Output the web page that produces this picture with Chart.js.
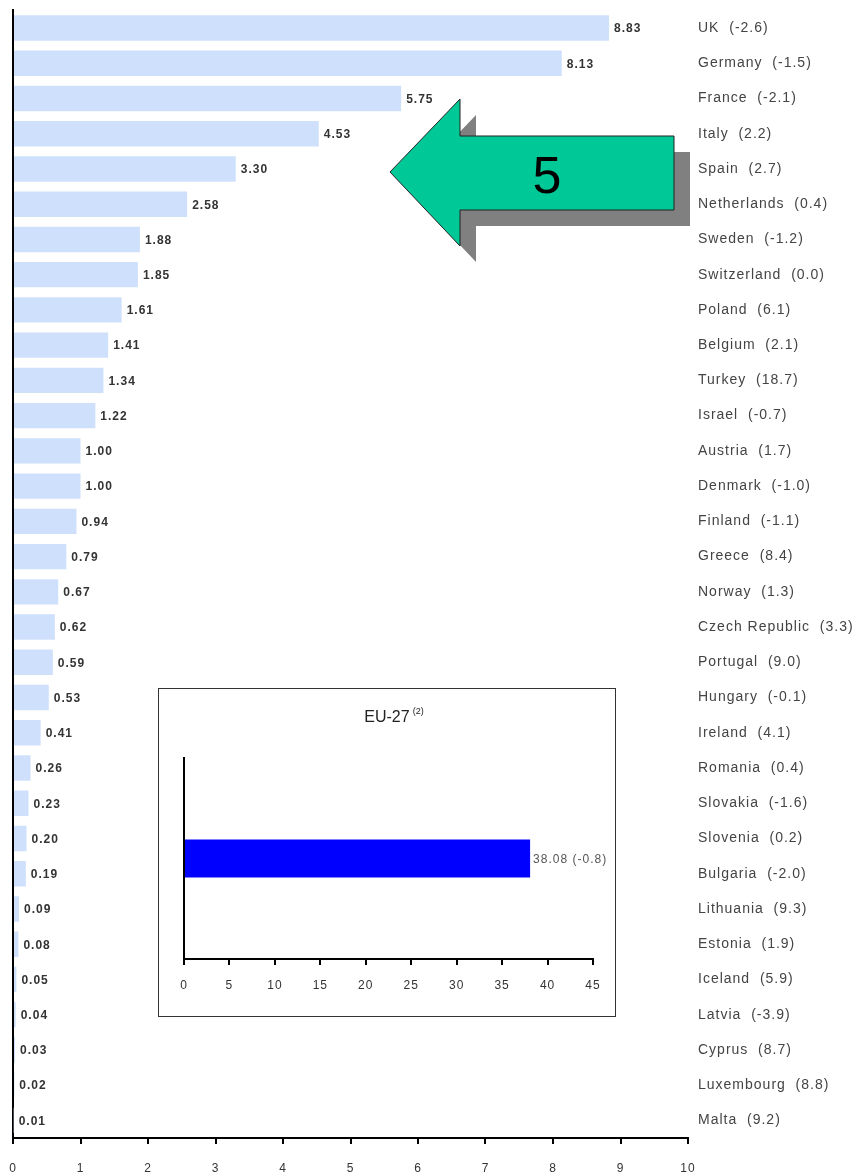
<!DOCTYPE html>
<html>
<head>
<meta charset="utf-8">
<script src="https://cdn.jsdelivr.net/npm/chart.js@4.4.1/dist/chart.umd.min.js"></script>
<style>
  html, body { margin: 0; padding: 0; background: #fff; }
  #wrap { position: relative; width: 855px; height: 1175px; }
  #mainChart { position: absolute; left: 0; top: 0; }
  #inset { position: absolute; left: 158px; top: 688px; width: 456px; height: 327px;
           border: 1.5px solid #333; background: #fff; }
  #euTitle { position: absolute; left: 0; top: 17px; width: 100%; text-align: center;
             font-family: 'Liberation Sans', Arial, sans-serif; font-size: 16px; color: #222; padding-left: 14px; box-sizing: border-box; }
  #euTitle sup { font-size: 9px; vertical-align: 8px; margin-left: 3px; }
  #euChart { position: absolute; left: 0; top: 0; }
  #arrow { position: absolute; left: 0; top: 0; }
</style>
</head>
<body>
<div id="wrap">
  <canvas id="mainChart" width="855" height="1175"></canvas>
  <div id="inset">
    <canvas id="euChart" width="456" height="327"></canvas>
    <div id="euTitle">EU-27<sup>(2)</sup></div>
  </div>
  <svg id="arrow" width="855" height="300">
    <polygon points="406,188 476,115 476,152 690,152 690,226 476,226 476,262" fill="#808080"/>
    <polygon points="390,172 460,99 460,136 674,136 674,210 460,210 460,246" fill="#00c896" stroke="#222" stroke-width="1"/>
    <text x="547" y="193" font-family="Liberation Sans, Arial, sans-serif" font-size="52" text-anchor="middle" fill="#000">5</text>
  </svg>
</div>
<script>
const countries = ['UK', 'Germany', 'France', 'Italy', 'Spain', 'Netherlands', 'Sweden', 'Switzerland',
  'Poland', 'Belgium', 'Turkey', 'Israel', 'Austria', 'Denmark', 'Finland', 'Greece', 'Norway',
  'Czech Republic', 'Portugal', 'Hungary', 'Ireland', 'Romania', 'Slovakia', 'Slovenia', 'Bulgaria',
  'Lithuania', 'Estonia', 'Iceland', 'Latvia', 'Cyprus', 'Luxembourg', 'Malta'];
const values = [8.83, 8.13, 5.75, 4.53, 3.30, 2.58, 1.88, 1.85, 1.61, 1.41, 1.34, 1.22, 1.00, 1.00,
  0.94, 0.79, 0.67, 0.62, 0.59, 0.53, 0.41, 0.26, 0.23, 0.20, 0.19, 0.09, 0.08, 0.05, 0.04, 0.03, 0.02, 0.01];
const changes = ['-2.6', '-1.5', '-2.1', '2.2', '2.7', '0.4', '-1.2', '0.0', '6.1', '2.1', '18.7', '-0.7',
  '1.7', '-1.0', '-1.1', '8.4', '1.3', '3.3', '9.0', '-0.1', '4.1', '0.4', '-1.6', '0.2', '-2.0', '9.3',
  '1.9', '5.9', '-3.9', '8.7', '8.8', '9.2'];
const xTicks = [0, 1, 2, 3, 4, 5, 6, 7, 8, 9, 10];

const euLabel = ['EU-27'];
const euValue = [38.08];
const euChange = ['-0.8'];
const euTicks = [0, 5, 10, 15, 20, 25, 30, 35, 40, 45];

const rowLabels = countries.map((c, i) => c + '  (' + changes[i] + ')');
const FONT = 'Liberation Sans, Arial, sans-serif';

// the scanned original has loose letter spacing
const spacing = {
  id: 'spacing',
  beforeDraw(chart) { chart.ctx.letterSpacing = '1px'; }
};

// writes the value just past the end of each bar
const valueLabels = {
  id: 'valueLabels',
  afterDatasetsDraw(chart, args, opts) {
    const ctx = chart.ctx;
    const meta = chart.getDatasetMeta(0);
    ctx.save();
    ctx.font = opts.font;
    ctx.fillStyle = opts.color;
    ctx.textBaseline = 'middle';
    meta.data.forEach((bar, i) => {
      ctx.fillText(opts.text(i), bar.x + opts.gap, bar.y + 1);
    });
    ctx.restore();
  }
};

new Chart(document.getElementById('mainChart'), {
  type: 'bar',
  data: {
    labels: rowLabels,
    datasets: [{
      data: values,
      backgroundColor: '#cfe0fc',
      borderWidth: 0,
      barPercentage: 0.72,
      categoryPercentage: 1,
      yAxisID: 'y'
    }]
  },
  options: {
    indexAxis: 'y',
    responsive: false,
    animation: false,
    layout: { padding: { top: 2, left: 0, right: 0, bottom: 0 } },
    plugins: {
      legend: { display: false },
      tooltip: { enabled: false },
      valueLabels: {
        font: 'bold 12px ' + FONT,
        color: '#333',
        gap: 5,
        text: i => values[i].toFixed(2)
      }
    },
    scales: {
      x: {
        min: 0, max: 10,
        afterBuildTicks: s => { s.ticks = xTicks.map(v => ({ value: v })); },
        grid: { display: true, drawOnChartArea: false, drawTicks: true, tickLength: 6, color: '#000', lineWidth: 2 },
        border: { display: true, color: '#000', width: 2 },
        ticks: { color: '#333', font: { family: FONT, size: 12 }, padding: 17 },
        afterFit: s => { s.height = 37; s.paddingLeft = 0; s.paddingRight = 0; }
      },
      y: {
        position: 'right',
        grid: { display: false },
        border: { display: false },
        ticks: { color: '#444', font: { family: FONT, size: 14 }, padding: 2, autoSkip: false },
        afterFit: s => { s.width = 167; }
      },
      yl: {
        type: 'category',
        position: 'left',
        grid: { display: false },
        border: { display: true, color: '#000', width: 2 },
        ticks: { display: false },
        afterFit: s => { s.width = 13; }
      }
    }
  },
  plugins: [spacing, valueLabels]
});

new Chart(document.getElementById('euChart'), {
  type: 'bar',
  data: {
    labels: euLabel,
    datasets: [{
      data: euValue,
      backgroundColor: '#0000ff',
      borderWidth: 0,
      barPercentage: 0.19,
      categoryPercentage: 1
    }]
  },
  options: {
    indexAxis: 'y',
    responsive: false,
    animation: false,
    layout: { padding: { top: 69, right: 22, left: 0, bottom: 0 } },
    plugins: {
      legend: { display: false },
      tooltip: { enabled: false },
      valueLabels: {
        font: '12px ' + FONT,
        color: '#555',
        gap: 3,
        text: i => euValue[i].toFixed(2) + ' (' + euChange[i] + ')'
      }
    },
    scales: {
      x: {
        min: 0, max: 45,
        afterBuildTicks: s => { s.ticks = euTicks.map(v => ({ value: v })); },
        grid: { display: true, drawOnChartArea: false, drawTicks: true, tickLength: 6, color: '#000', lineWidth: 2 },
        border: { display: true, color: '#000', width: 2 },
        ticks: { color: '#333', font: { family: FONT, size: 12 }, padding: 13 },
        afterFit: s => { s.height = 57; }
      },
      y: {
        position: 'left',
        grid: { display: false },
        border: { display: true, color: '#000', width: 2 },
        ticks: { display: false },
        afterFit: s => { s.width = 25; }
      }
    }
  },
  plugins: [spacing, valueLabels]
});
</script>
</body>
</html>
